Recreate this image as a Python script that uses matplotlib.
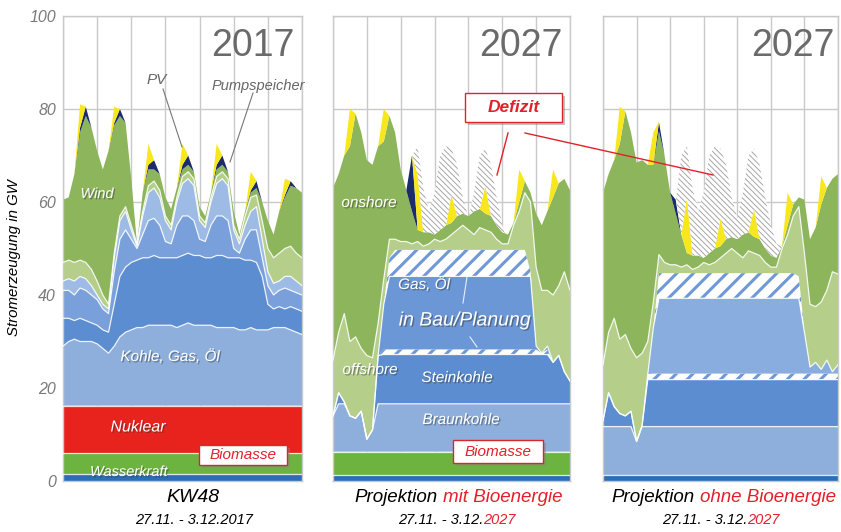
import numpy as np
import matplotlib
matplotlib.use("Agg")
import matplotlib.pyplot as plt
import matplotlib.patheffects as pe
from matplotlib.patches import Rectangle
from matplotlib.lines import Line2D

plt.rcParams['font.family'] = ['Liberation Sans', 'DejaVu Sans']

W, H = 841, 532

# Stunden der KW48 (4-h-Raster, 0 = Montag 0 Uhr)
hours = list(range(0, 169, 4))

# ---------------- 2017: obere Kanten der Schichten in GW ----------------
hydro_2017 = 1.5
bio_2017 = 6.0
nuk_2017 = 16.2
braun_2017 = [29, 30, 30.5, 30, 30, 30, 29.5, 28.5, 27.5, 29, 31, 32, 32.5, 33, 33,
              33.5, 33.5, 33.5, 33.5, 33.5, 33, 33.5, 34, 33.5, 33.5, 33.5, 33.5, 33,
              33, 33, 33, 32.5, 32.5, 33, 32.5, 32.5, 32.5, 33, 33, 33, 32.5, 32, 31.5]
stein_2017 = [35, 35, 34.5, 35, 34.5, 34, 33.5, 32.5, 32, 38, 44, 46, 47, 47.5, 48,
              48, 48.5, 48, 48, 48, 48, 48.5, 49, 48.5, 48.5, 48, 48, 48.5, 48.5, 48,
              48, 48, 47.5, 47.5, 47, 44, 38, 37, 37.5, 37, 37.5, 37, 36.5]
gas_2017 = [41, 41, 40, 41.5, 41, 40, 39, 37, 36, 45, 52, 54, 52, 50, 53, 56, 56.5,
            55, 51.5, 51, 55, 57, 57, 56, 52, 51.5, 55, 57, 57, 56, 50, 49, 52, 54,
            54, 48, 42, 40, 41, 41.5, 41, 40.5, 40]
oel_2017 = [43, 43.5, 43, 44, 43.5, 42, 40, 38, 37, 48, 56, 58, 54, 50.5, 57, 62, 63,
            61, 56, 54, 60, 64, 65, 63.5, 56, 54.5, 60, 64, 65, 63.5, 54, 51, 55, 58,
            59, 52, 45, 42.5, 43, 44, 44, 43, 42]
offwind_2017 = [47, 47.5, 47, 47.5, 47, 45.5, 43, 40, 38, 49, 57, 59, 55, 51, 58,
                63.5, 64.5, 62.5, 57, 55, 61, 65.5, 66.5, 65, 57, 55.5, 61, 65.5,
                66.5, 65, 55, 52, 57, 61, 61.5, 56, 50, 48, 49, 50, 50.5, 49, 48]
wind_2017 = [60.5, 61, 66, 75, 78.5, 76, 71, 67, 71, 76.5, 78.5, 77, 65, 51, 62, 67,
             67, 66, 61, 58.5, 63, 67, 68, 66.5, 59, 57, 62, 67, 68, 66.5, 58, 53, 58,
             62, 63, 60, 56, 53, 58, 61, 63.5, 63, 62]
# Pumpspeicher und PV als Einspeisung (GW) oben auf dem Wind
pump_2017 = [0, 0, 0, 1, 2, 0, 0, 0, 0, 0.5, 1.5, 0, 0, 0, 0, 1, 2, 0, 0, 0, 0, 1, 2, 0,
             0, 0, 0, 1, 2, 0, 0, 0, 0, 0.5, 1.5, 0, 0, 0, 0, 0.5, 1, 0, 0]
pv_2017 = [0, 0, 0, 5, 0, 0, 0, 0, 0, 3.5, 0, 0, 0, 0, 0, 4.5, 0, 0, 0, 0, 0, 4.5, 0, 0,
           0, 0, 0, 4.5, 0, 0, 0, 0, 0, 4, 0, 0, 0, 0, 0, 3.5, 0, 0, 0]

# ---------------- 2027 Projektion ----------------
hydro_2027 = 1.3
bio_2027 = 6.3                      # nur "mit Bioenergie"
# Kraftwerksbloecke (obere Kanten, GW): Braunkohle, Steinkohle, Steinkohle in Bau,
# Gas/Oel, Gas/Oel in Bau
levels_mit = [16.6, 27.2, 28.3, 44.0, 49.7]
levels_ohne = [11.7, 21.8, 23.1, 39.3, 44.7]
conv_mit = [14, 19, 17, 14, 13.5, 15, 9, 11, 27, 38, 48] + [49.7] * 24 + \
           [45, 29, 27.5, 29, 25.5, 27, 23.5, 21.5]
conv_ohne = [13, 19, 16, 14.5, 14, 15, 8.5, 12, 23, 33, 44.7] + [44.7] * 24 + \
            [44, 32, 24.5, 25.5, 24, 26, 23.5, 25]
# Wind (GW), gestapelt auf die konventionelle Erzeugung
offshore_2027 = [12, 13, 19, 16, 17.5, 13.5, 18, 15.5, 7, 5.5, 4, 2.3, 1.8, 1.8, 1.3,
                 1.8, 0.8, 1.3, 2.3, 1.8, 2.3, 3.3, 4.3, 5.3, 4.3, 3.3, 4.8, 4.3, 3.8,
                 2.3, 1.3, 1.3, 5.3, 8.3, 12.3, 15, 17, 13.5, 12, 14.5, 15, 21.5, 19.5]
onshore_2027 = [37, 34, 34, 42, 48, 46.5, 42, 41.5, 38, 29.5, 26.5, 23, 15.5, 11, 7,
                2.5, 3, 2.5, 1, 2.5, 3, 2.5, 3, 2.5, 3, 5, 4, 3.5, 3.5, 3, 2.5, 2, 0.5,
                2, 2.5, 2, 11.5, 14, 17, 21, 22, 20, 21.5]
pv_2027 = [0, 0, 0, 8, 0, 0, 0, 0, 0, 7, 0, 0, 0, 0, 0, 12, 0, 0, 0, 0, 0, 6, 0, 0,
           0, 0, 0, 6, 0, 0, 0, 0, 0, 7, 0, 0, 0, 0, 0, 6, 0, 0, 0]
pump_mit = [0] * 14 + [12] + [0] * 28
pump_ohne = [0] * 10 + [2, 0, 0, 3] + [0] * 29
nan = np.nan
load_2027 = [nan] * 13 + [60, 70, 72, 63, 58, 62, 70, 72, 71.5, 68, 61, 56.5, 62, 70,
                          71.5, 68, 61, 55, 51] + [nan] * 11

# Farben
C_HYDRO = '#2d6db5'
C_BIO = '#6cb33f'
C_NUK = '#e8221c'
C_BRAUN = '#8eafdc'
C_STEIN = '#5c8dd0'
C_GAS = '#79a0da'
C_OEL = '#9dbbe4'
C_OFF = '#b5cf8b'
C_ON = '#8db55b'
C_PUMP = '#1b2b6b'
C_PV = '#f8e71c'
C_HATCH = '#6f98d6'
C_RED = '#e3202a'


def fx(x):
    return x / W


def fy(y):
    return 1 - y / H


def make_axes(x0, x1):
    ax = fig.add_axes([fx(x0), fy(481), (x1 - x0) / W, 465 / H])
    ax.set_xlim(0, 168)
    ax.set_ylim(0, 100)
    ax.set_xticks(range(0, 169, 24))
    ax.set_yticks(range(0, 101, 20))
    ax.grid(True, color='#c9c9c9', lw=1.0)
    ax.set_axisbelow(True)
    ax.tick_params(length=0, labelbottom=False, labelleft=False)
    for s in ax.spines.values():
        s.set_color('#c9c9c9')
        s.set_linewidth(1.0)
    return ax


def band(ax, lo, hi, color, edge=True):
    ax.fill_between(hours, lo, hi, facecolor=color, edgecolor='none', lw=0, zorder=2)
    if edge:
        ax.plot(hours, np.broadcast_to(hi, len(hours)), color='white', lw=0.9,
                alpha=0.85, zorder=3)


def hatch_band(ax, lo, hi, color, hatch, hlw):
    with plt.rc_context({'hatch.linewidth': hlw}):
        ax.fill_between(hours, lo, hi, facecolor='white', edgecolor=color,
                        hatch=hatch, lw=0, zorder=2)


shadow = [pe.withSimplePatchShadow(offset=(1, -1), shadow_rgbFace='#333333', alpha=0.45)]


def label(x, y, s, size=11, color='white', **kw):
    fig.text(fx(x), fy(y), s, fontsize=size, color=color, fontstyle='italic',
             ha=kw.pop('ha', 'center'), va='center', path_effects=shadow, zorder=10, **kw)


def box(x0, y0, x1, y1, s, size=11, weight='normal'):
    fig.patches.append(Rectangle((fx(x0), fy(y1)), (x1 - x0) / W, (y1 - y0) / H,
                                 transform=fig.transFigure, facecolor='white',
                                 edgecolor='#d9262e', lw=1.0, zorder=9,
                                 path_effects=[pe.withSimplePatchShadow(
                                     offset=(2, -2), shadow_rgbFace='#888888', alpha=0.5)]))
    fig.text(fx((x0 + x1) / 2), fy((y0 + y1) / 2), s, fontsize=size, color=C_RED,
             fontstyle='italic', fontweight=weight, ha='center', va='center', zorder=10)


def line(x0, y0, x1, y1, color, lw=1.0):
    fig.add_artist(Line2D([fx(x0), fx(x1)], [fy(y0), fy(y1)], transform=fig.transFigure,
                          color=color, lw=lw, zorder=8))


fig = plt.figure(figsize=(W / 100, H / 100), dpi=100)

# ---------------- Panel 1: 2017 ----------------
ax1 = make_axes(63, 302)
ax1.tick_params(labelleft=True, pad=5, labelsize=11.5, labelcolor='#7a7a7a')
for lab in ax1.get_yticklabels():
    lab.set_fontstyle('italic')

band(ax1, 0, hydro_2017, C_HYDRO)
band(ax1, hydro_2017, bio_2017, C_BIO)
band(ax1, bio_2017, nuk_2017, C_NUK)
band(ax1, nuk_2017, braun_2017, C_BRAUN)
band(ax1, braun_2017, stein_2017, C_STEIN)
band(ax1, stein_2017, gas_2017, C_GAS)
band(ax1, gas_2017, oel_2017, C_OEL)
band(ax1, oel_2017, offwind_2017, C_OFF)
band(ax1, offwind_2017, wind_2017, C_ON, edge=False)
top = np.array(wind_2017)
band(ax1, top, top + np.array(pump_2017), C_PUMP, edge=False)
top = top + np.array(pump_2017)
band(ax1, top, top + np.array(pv_2017), C_PV, edge=False)

fig.text(fx(14), fy(258), 'Stromerzeugung in GW', rotation=90, fontsize=10.8,
         fontstyle='italic', ha='center', va='center')


def panel_2027(ax, conv, levels, base, pump, gas_color):
    conv = np.array(conv)
    lo = base
    for lev, col in zip(levels, [C_BRAUN, C_STEIN, None, gas_color, None]):
        hi = np.minimum(conv, lev)
        if col is None:
            hatch_band(ax, lo, hi, C_HATCH, '//', 2.2)
        else:
            band(ax, lo, hi, col)
        lo = hi
    off_top = conv + np.array(offshore_2027)
    band(ax, conv, off_top, C_OFF)
    on_top = off_top + np.array(onshore_2027)
    band(ax, off_top, on_top, C_ON, edge=False)
    p_top = on_top + np.array(pump)
    band(ax, on_top, p_top, C_PUMP, edge=False)
    pv_top = p_top + np.array(pv_2027)
    band(ax, p_top, pv_top, C_PV, edge=False)
    load = np.array(load_2027)
    mask = ~np.isnan(load) & (np.nan_to_num(load) > pv_top)
    load_f = np.where(np.isnan(load), pv_top, load)
    with plt.rc_context({'hatch.linewidth': 0.7}):
        ax.fill_between(hours, pv_top, load_f, where=mask, interpolate=True,
                        facecolor='white', edgecolor='#a6a6a6',
                        hatch='\\\\\\\\\\\\', lw=0, zorder=2)


# ---------------- Panel 2: 2027 mit Bioenergie ----------------
ax2 = make_axes(333, 570)
band(ax2, 0, hydro_2027, C_HYDRO)
band(ax2, hydro_2027, bio_2027, C_BIO)
panel_2027(ax2, conv_mit, levels_mit, bio_2027, pump_mit, '#6c97d6')

# ---------------- Panel 3: 2027 ohne Bioenergie ----------------
ax3 = make_axes(603, 838)
band(ax3, 0, hydro_2027, C_HYDRO)
panel_2027(ax3, conv_ohne, levels_ohne, hydro_2027, pump_ohne, '#8aaddf')

# Jahreszahlen
for xc, yr in [(253, '2017'), (521, '2027'), (793, '2027')]:
    fig.text(fx(xc), fy(46), yr, fontsize=27, color='#6a6a6a', ha='center',
             va='center', zorder=10)

# Beschriftungen Panel 1
fig.text(fx(157), fy(80), 'PV', fontsize=11, color='#666666', fontstyle='italic',
         ha='center', va='center', zorder=10)
fig.text(fx(258), fy(86), 'Pumpspeicher', fontsize=10.5, color='#666666',
         fontstyle='italic', ha='center', va='center', zorder=10)
line(163, 89, 182, 147, '#777777', 0.8)
line(253, 93, 230, 162, '#777777', 0.8)
label(97, 194, 'Wind', 10.5)
label(170, 357, 'Kohle, Gas, Öl', 11)
label(138, 427, 'Nuklear', 11.5)
label(129, 472, 'Wasserkraft', 10.5)
box(199, 445, 287, 465, 'Biomasse', 11)

# Beschriftungen Panel 2
label(369, 203, 'onshore', 11)
label(370, 370, 'offshore', 11)
label(424, 285, 'Gas, Öl', 11)
label(465, 321, 'in Bau/Planung', 14)
label(457, 378, 'Steinkohle', 11)
label(461, 420, 'Braunkohle', 11)
line(467, 277, 463, 303, '#e8eef8', 0.8)
line(470, 337, 477, 347, '#e8eef8', 0.8)
box(453, 440, 543, 463, 'Biomasse', 11)
box(465, 93, 562, 122, 'Defizit', 12.5, 'bold')
line(508, 133, 497, 175, C_RED, 1.0)
line(525, 133, 713, 175, C_RED, 1.0)

# Untertitel
fig.text(fx(193), fy(497), 'KW48', fontsize=14, fontstyle='italic', ha='center',
         va='center')
fig.text(fx(194), fy(520), '27.11. - 3.12.2017', fontsize=10.5, fontstyle='italic',
         ha='center', va='center')
for xs, red, xd in [(440, 'mit Bioenergie', 483), (697, 'ohne Bioenergie', 747)]:
    fig.text(fx(xs - 2), fy(497), 'Projektion', fontsize=13.5, fontstyle='italic',
             ha='right', va='center')
    fig.text(fx(xs + 3), fy(497), red, fontsize=13.5, fontstyle='italic', color=C_RED,
             ha='left', va='center')
    fig.text(fx(xd), fy(520), '27.11. - 3.12.', fontsize=10.5, fontstyle='italic',
             ha='right', va='center')
    fig.text(fx(xd), fy(520), '2027', fontsize=10.5, fontstyle='italic', color=C_RED,
             ha='left', va='center')

fig.savefig('out.png', dpi=100)
